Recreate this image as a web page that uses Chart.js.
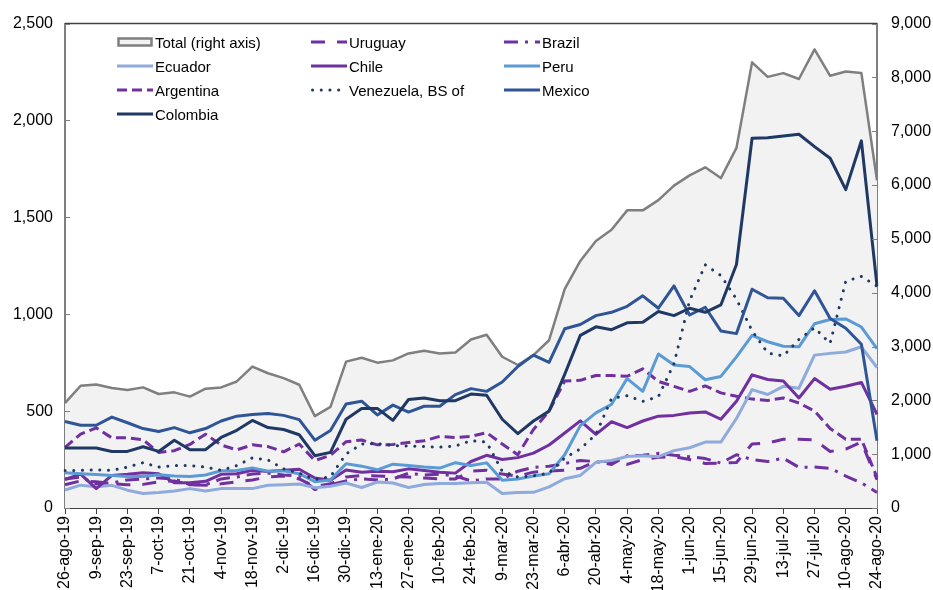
<!DOCTYPE html>
<html lang="es">
<head>
<meta charset="utf-8">
<title>Flujos semanales</title>
<script src="https://cdn.jsdelivr.net/npm/chart.js@4.4.1/dist/chart.umd.min.js"></script>
<style>
  html, body { margin: 0; padding: 0; background: #fff; }
  #wrap { position: relative; width: 933px; height: 590px; }
  #chart { position: absolute; left: 0; top: 0; }
  .legend-item {
    position: absolute; display: flex; align-items: center; height: 20px;
    font: 15px "Liberation Sans", Arial, sans-serif; color: #000; white-space: nowrap;
  }
  .legend-item svg { margin-right: 2px; }
</style>
</head>
<body>
<div id="wrap">
  <canvas id="chart" width="933" height="590"></canvas>
  <div id="legend"></div>
</div>
<script>
// --- Data (weekly) ---
const weeks = ['26-ago-19','2-sep-19','9-sep-19','16-sep-19','23-sep-19','30-sep-19','7-oct-19','14-oct-19','21-oct-19','28-oct-19',
  '4-nov-19','11-nov-19','18-nov-19','25-nov-19','2-dic-19','9-dic-19','16-dic-19','23-dic-19','30-dic-19','6-ene-20',
  '13-ene-20','20-ene-20','27-ene-20','3-feb-20','10-feb-20','17-feb-20','24-feb-20','2-mar-20','9-mar-20','16-mar-20',
  '23-mar-20','30-mar-20','6-abr-20','13-abr-20','20-abr-20','27-abr-20','4-may-20','11-may-20','18-may-20','25-may-20',
  '1-jun-20','8-jun-20','15-jun-20','22-jun-20','29-jun-20','6-jul-20','13-jul-20','20-jul-20','27-jul-20','3-ago-20',
  '10-ago-20','17-ago-20','24-ago-20'];

const total = [1950,2272,2296,2228,2192,2241,2118,2149,2070,2217, 2241,2351,2627,2504,2412,2290,1708,1879,2719,2792,
  2700,2743,2871,2921,2871,2890,3130,3220,2810,2657, 2841,3117,4065,4590,4960,5170,5530,5530,5720,5990,
  6180,6330,6130,6690,8280,8010,8080,7970,8520,8030, 8110,8080,6090];
const colombia = [310,310,310,292,292,316,292,350,301,301, 364,401,452,415,405,378,270,287,458,514,
  514,452,560,568,554,554,588,582,458,384, 449,500,690,891,935,920,956,959,1014,993,
  1031,1010,1048,1257,1908,1911,1920,1929,1865,1805, 1643,1895,1146];
const mexico = [446,427,427,469,440,410,395,415,388,410, 449,474,483,488,478,456,350,400,537,551,
  480,531,495,525,525,585,616,602,650,730, 789,752,925,947,993,1010,1041,1095,1031,1146,
  996,1036,914,900,1129,1085,1082,993,1121,978, 928,845,347];
const venezuela = [194,194,197,194,211,234,211,219,219,211, 194,219,259,248,202,180,146,162,279,330,
  332,322,320,317,314,320,347,340,190,160, 166,180,258,305,380,565,580,550,575,745,
  1070,1255,1200,1078,915,800,785,870,930,850, 1170,1195,1145];
const peru = [182,177,173,168,163,163,172,165,162,170, 192,194,207,190,192,177,136,145,228,216,
  197,226,219,211,206,234,219,233,143,150, 165,177,275,425,491,535,668,602,795,738,
  730,662,679,780,891,858,835,832,951,973, 976,934,823];
const ecuador = [93,118,109,117,92,75,80,88,100,88, 100,100,100,117,120,124,105,112,129,106,
  134,129,106,121,126,126,130,133,75,80, 81,109,151,168,236,245,266,270,265,296,
  311,340,340,462,611,586,628,618,789,798, 805,832,725];
const chile = [147,175,100,168,174,182,177,130,130,138, 174,177,195,188,195,200,155,143,196,185,
  190,187,202,194,185,180,240,272,250,260, 283,325,387,450,380,445,415,449,474,478,
  490,496,458,551,687,663,655,568,668,613, 628,648,483];
const argentina = [313,381,414,362,362,352,287,296,328,381, 325,300,326,317,290,330,245,272,342,351,
  326,328,338,347,370,364,370,389,330,275, 405,500,655,659,684,684,680,718,653,628,
  602,630,594,577,562,555,568,542,500,410, 355,355,158];
const uruguay = [120,140,135,125,120,122,135,140,120,118, 125,135,145,160,165,150,110,125,160,168,
  165,162,160,155,150,150,190,195,175,165, 185,190,195,205,240,240,225,250,262,265,
  250,230,232,235,330,335,355,355,352,292, 304,340,146];
const brazil = [150,160,125,130,145,150,155,150,120,120, 150,160,175,180,170,165,95,120,140,150,
  145,150,180,170,175,165,140,150,150,190, 210,215,230,245,240,225,270,272,282,272,
  265,255,232,275,250,240,257,210,211,205, 165,130,80];

// --- Styles ---
const FONT = '"Liberation Sans", Arial, sans-serif';
const PURPLE = '#7030a0';

// series: label, data, colour, dash, legend column/row, draw order
const series = [
  { label: 'Total (right axis)', data: total, color: '#7f7f7f', dash: [], col: 0, row: 0, order: 20, area: true },
  { label: 'Uruguay', data: uruguay, color: PURPLE, dash: [14, 12], col: 1, row: 0, order: 9 },
  { label: 'Brazil', data: brazil, color: PURPLE, dash: [14, 7, 3, 7], col: 2, row: 0, order: 8 },
  { label: 'Ecuador', data: ecuador, color: '#8faadc', dash: [], col: 0, row: 1, order: 6 },
  { label: 'Chile', data: chile, color: PURPLE, dash: [], col: 1, row: 1, order: 5 },
  { label: 'Peru', data: peru, color: '#5b9bd5', dash: [], col: 2, row: 1, order: 4 },
  { label: 'Argentina', data: argentina, color: PURPLE, dash: [10, 5], col: 0, row: 2, order: 7 },
  { label: 'Venezuela, BS of', data: venezuela, color: '#1f3864', dash: [0.1, 8.6], round: true, col: 1, row: 2, order: 3 },
  { label: 'Mexico', data: mexico, color: '#2f5597', dash: [], col: 2, row: 2, order: 2 },
  { label: 'Colombia', data: colombia, color: '#1f3864', dash: [], col: 0, row: 3, order: 1 }
];

// --- Legend (HTML) ---
const legendCols = [117, 311, 504];
const legendRows = [42, 66, 90, 114];
const legendBox = document.getElementById('legend');
series.forEach(s => {
    const item = document.createElement('div');
    item.className = 'legend-item';
    item.style.left = legendCols[s.col] + 'px';
    item.style.top = (legendRows[s.row] - 10) + 'px';
    let swatch;
    if (s.area) {
        swatch = '<rect x="1.5" y="6.5" width="33" height="7" fill="#f2f2f2" stroke="#7f7f7f" stroke-width="2.5"/>';
    } else {
        const dash = s.dash.length ? ` stroke-dasharray="${s.dash.join(' ')}"` : '';
        const cap = s.round ? 'round' : 'butt';
        swatch = `<line x1="${s.round ? 1.5 : 0}" y1="10" x2="36" y2="10" stroke="${s.color}" stroke-width="3"${dash} stroke-linecap="${cap}"/>`;
    }
    item.innerHTML = `<svg width="36" height="20">${swatch}</svg><span>${s.label}</span>`;
    legendBox.appendChild(item);
});

// Inward tick marks on both value axes and the top frame line
const framePlugin = {
    id: 'frame',
    afterDraw(chart) {
        const { ctx, chartArea: a, scales } = chart;
        ctx.save();
        ctx.lineWidth = 1.5;
        ctx.strokeStyle = '#404040';
        ctx.beginPath();
        ctx.moveTo(a.left, a.top);
        ctx.lineTo(a.right, a.top);
        ctx.stroke();

        ctx.lineWidth = 1;
        ctx.strokeStyle = '#7f7f7f';
        ctx.beginPath();
        scales.y.ticks.forEach(t => {
            const py = Math.round(scales.y.getPixelForValue(t.value)) + 0.5;
            ctx.moveTo(a.left, py);
            ctx.lineTo(a.left + 5, py);
        });
        scales.y1.ticks.forEach(t => {
            const py = Math.round(scales.y1.getPixelForValue(t.value)) + 0.5;
            ctx.moveTo(a.right - 5, py);
            ctx.lineTo(a.right, py);
        });
        ctx.stroke();
        ctx.restore();
    }
};

const tickFont = { family: FONT, size: 16 };
const thousands = v => Number(v).toLocaleString('en-US');

new Chart(document.getElementById('chart').getContext('2d'), {
    type: 'line',
    data: {
        labels: weeks,
        datasets: series.map(s => ({
            label: s.label,
            data: s.data,
            yAxisID: s.area ? 'y1' : 'y',
            borderColor: s.color,
            backgroundColor: s.area ? '#f2f2f2' : s.color,
            fill: s.area ? 'origin' : false,
            borderWidth: s.area ? 2.5 : 3,
            borderDash: s.dash,
            borderCapStyle: s.round ? 'round' : 'butt',
            borderJoinStyle: 'round',
            pointRadius: 0,
            tension: 0,
            order: s.order
        }))
    },
    options: {
        responsive: false,
        animation: false,
        devicePixelRatio: 1,
        layout: { padding: { top: 18, left: 0, right: 0, bottom: 0 } },
        plugins: {
            legend: { display: false },
            tooltip: { enabled: false }
        },
        scales: {
            x: {
                offset: false,
                ticks: {
                    autoSkip: false,
                    maxRotation: 90,
                    minRotation: 90,
                    padding: 2,
                    color: '#000',
                    font: tickFont,
                    callback: (v, i) => (i % 2 === 0 ? weeks[i] : '')
                },
                grid: {
                    drawOnChartArea: false,
                    drawTicks: true,
                    tickLength: 6,
                    color: ctx => (ctx.index % 2 === 0 ? '#404040' : 'rgba(0,0,0,0)')
                },
                border: { color: '#404040', width: 2 },
                afterFit: s => { s.height = 82; }
            },
            y: {
                position: 'left',
                min: 0,
                max: 2500,
                ticks: { stepSize: 500, padding: 12, color: '#000', font: tickFont, callback: thousands },
                grid: { display: false, drawTicks: false },
                border: { color: '#7f7f7f', width: 2 },
                afterFit: s => { s.width = 65; }
            },
            y1: {
                position: 'right',
                min: 0,
                max: 9000,
                ticks: { stepSize: 1000, padding: 14, color: '#000', font: tickFont, callback: thousands },
                grid: { display: false, drawTicks: false },
                border: { color: '#7f7f7f', width: 2 },
                afterFit: s => { s.width = 56; }
            }
        }
    },
    plugins: [framePlugin]
});
</script>
</body>
</html>
